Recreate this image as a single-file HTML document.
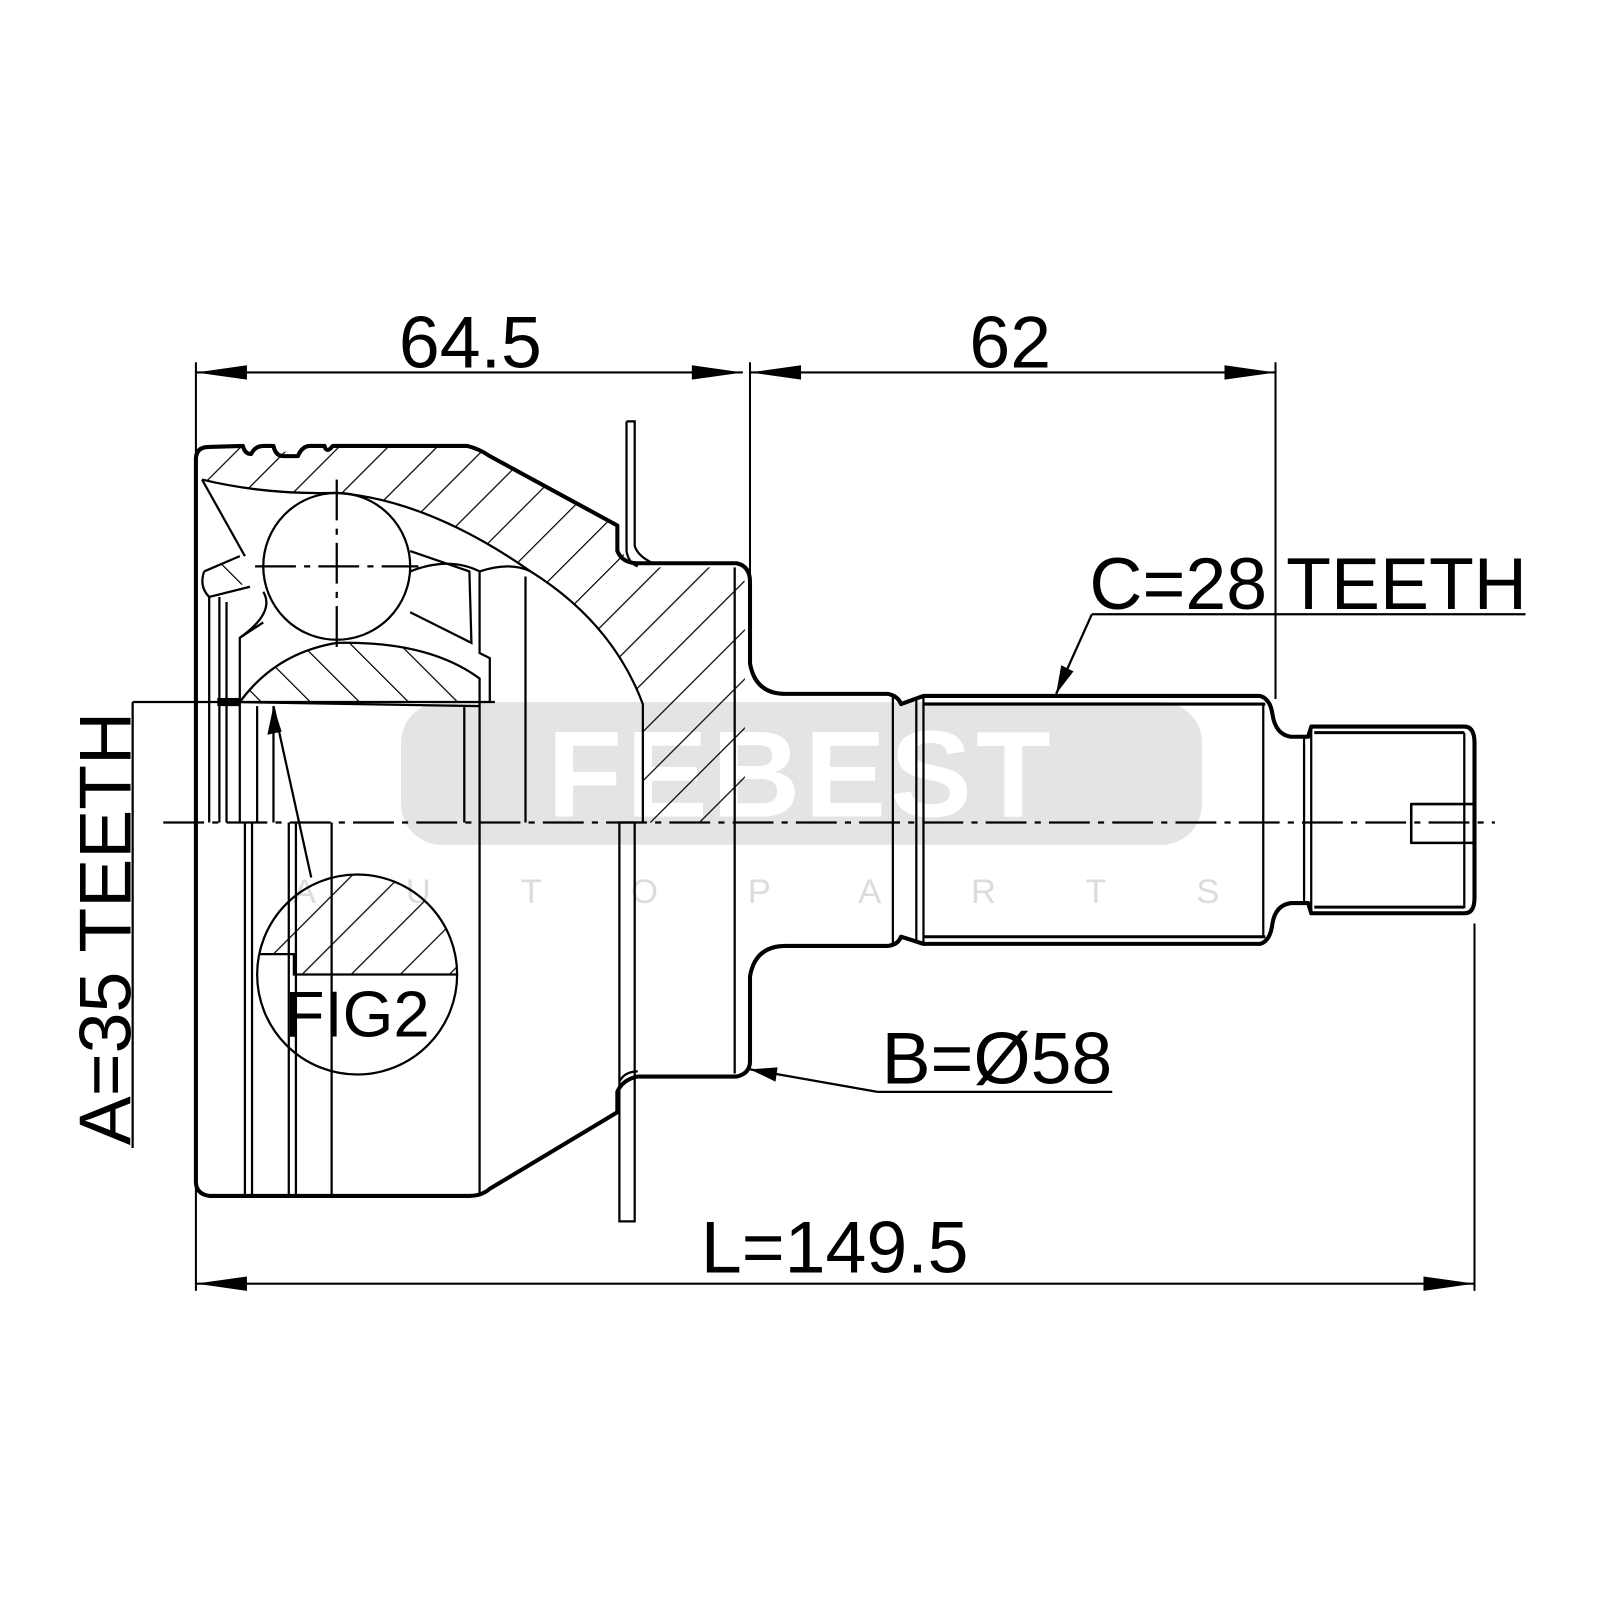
<!DOCTYPE html>
<html><head><meta charset="utf-8"><style>
html,body{margin:0;padding:0;background:#fff;}
svg{display:block}
text{font-family:"Liberation Sans",sans-serif;fill:#000}
</style></head><body>
<svg width="1600" height="1600" viewBox="0 0 1568 1568" xmlns="http://www.w3.org/2000/svg">
<defs>
<pattern id="h" patternUnits="userSpaceOnUse" width="34" height="34" patternTransform="rotate(45)">
<line x1="0" y1="0" x2="0" y2="34" stroke="#000" stroke-width="2.4"/>
</pattern>
<pattern id="h2" patternUnits="userSpaceOnUse" width="34" height="34" patternTransform="rotate(-45)">
<line x1="0" y1="0" x2="0" y2="34" stroke="#000" stroke-width="2.4"/>
</pattern>
<clipPath id="fc"><circle cx="350" cy="955" r="98"/></clipPath>
</defs>

<!-- watermark -->
<rect x="393" y="688" width="785" height="140" rx="40" fill="#e4e4e4"/>
<text x="785" y="800" text-anchor="middle" font-size="120" font-weight="bold" style="fill:#fff" letter-spacing="4">FEBEST</text>
<text x="785" y="885" text-anchor="middle" font-size="34" style="fill:#dcdcdc" letter-spacing="88">AUTOPARTS</text>

<g fill="none" stroke="#000" stroke-width="2">
<line x1="192" y1="355" x2="192" y2="1265"/>
<line x1="735" y1="355" x2="735" y2="562"/>
<line x1="1250" y1="355" x2="1250" y2="685"/>
<line x1="1445" y1="905" x2="1445" y2="1265"/>
<line x1="192" y1="365" x2="728" y2="365"/>
<line x1="735" y1="365" x2="1250" y2="365"/>
<line x1="192" y1="1258" x2="1445" y2="1258"/>
</g>
<g fill="#000">
<polygon points="192,365 242,358 242,372"/>
<polygon points="728,365 678,358 678,372"/>
<polygon points="735,365 785,358 785,372"/>
<polygon points="1250,365 1200,358 1200,372"/>
<polygon points="192,1258 242,1251 242,1265"/>
<polygon points="1445,1258 1395,1251 1395,1265"/>
</g>

<path d="M198,470 Q260,485 330,483 Q420,490 520,560 Q600,610 630,690 L630,806 L730,806 L730,570 L722,556 L640,556 Q618,550 607,540 L605,515 L460,437 L330,437 L322,445 L290,440 L270,445 L250,440 L240,437 L205,440 Q196,445 196,455 Z" fill="url(#h)" stroke="none"/>
<path d="M235,688 Q270,640 330,630 Q420,628 470,665 L470,688 Z" fill="url(#h2)" stroke="none"/>
<path d="M200,560 L235,545 L245,570 L210,583 Z" fill="url(#h2)" stroke="none"/>

<g fill="none" stroke="#000" stroke-width="4" stroke-linejoin="round">
<path d="M192,806 L192,450 Q192,438 205,438 L238,437 Q240,445 246,445 Q250,437 258,437 L268,437 Q270,447 278,447 L292,447 Q296,437 304,437 L318,437 Q320,445 326,437 L458,437 Q470,440 480,447 L605,515 L605,540 Q610,552 625,552 L722,552 Q735,555 735,570 L735,650 Q740,680 770,680 L870,680 Q880,682 883,690 L905,682 L1235,682 Q1245,685 1247,700 Q1250,720 1265,722 L1282,722 L1285,712 L1435,712 Q1445,712 1445,728 L1445,880 Q1445,895 1435,895 L1285,895 L1282,885 L1265,885 Q1250,887 1247,905 Q1245,922 1235,925 L905,925 L883,918 Q880,926 870,927 L770,927 Q740,927 735,957 L735,1040 Q735,1052 722,1055 L625,1055 Q610,1058 605,1070 L605,1090 L480,1165 Q472,1172 460,1172 L205,1172 Q192,1170 192,1158 Z"/>
<path d="M1445,788 L1383,788 L1383,826 L1445,826" stroke-width="2.5"/>
</g>

<g fill="none" stroke="#000" stroke-width="2.2">
<path d="M198,470 Q260,485 330,483 Q420,490 520,560 Q600,610 630,690 L630,806"/>
<path d="M198,470 L240,545"/>
<circle cx="330" cy="555" r="72"/>
<path d="M200,560 L235,545 M205,585 L245,575 M200,560 Q195,575 205,585"/>
<path d="M402,540 L460,560 L462,630 L402,600"/>
<path d="M258,610 L235,625 L235,688 M235,625 Q270,600 258,580"/>
<path d="M235,688 Q270,640 330,630 Q420,628 470,665 L470,688"/>
<path d="M470,560 L470,640 L480,645 L480,688"/>
<path d="M402,560 Q440,545 470,560" />
<path d="M470,560 Q500,550 520,560"/>
<line x1="515" y1="565" x2="515" y2="806"/>
<line x1="130" y1="688" x2="485" y2="688"/>
<line x1="130" y1="688" x2="130" y2="1125"/>
<line x1="232" y1="688" x2="470" y2="692"/>
<line x1="205" y1="585" x2="205" y2="806"/>
<line x1="215" y1="585" x2="215" y2="806"/>
<line x1="222" y1="590" x2="222" y2="806"/>
<line x1="235" y1="688" x2="235" y2="806"/>
<line x1="252" y1="692" x2="252" y2="806"/>
<line x1="268" y1="692" x2="268" y2="806"/>
<line x1="455" y1="692" x2="455" y2="806"/>
<line x1="470" y1="688" x2="470" y2="806"/>
<line x1="240" y1="806" x2="240" y2="1172"/>
<line x1="247" y1="806" x2="247" y2="1172"/>
<line x1="283" y1="806" x2="283" y2="1172"/>
<line x1="290" y1="806" x2="290" y2="1172"/>
<line x1="325" y1="806" x2="325" y2="1172"/>
<line x1="470" y1="806" x2="470" y2="1172"/>
<line x1="720" y1="556" x2="720" y2="1052"/>
<path d="M614,413 L622,413 L622,535 Q625,545 640,552 M614,413 L614,540 Q616,552 625,555"/>
<path d="M607,806 L607,1197 L622,1197 L622,806 Z"/>
<path d="M607,1060 Q612,1050 625,1050"/>
<line x1="875" y1="682" x2="875" y2="925"/>
<line x1="898" y1="685" x2="898" y2="922"/>
<line x1="905" y1="682" x2="905" y2="925"/>
<line x1="1238" y1="690" x2="1238" y2="918"/>
<line x1="1278" y1="722" x2="1278" y2="885"/>
<line x1="1285" y1="712" x2="1285" y2="895"/>
<line x1="1435" y1="718" x2="1435" y2="890"/>
<line x1="905" y1="690" x2="1240" y2="690" stroke-width="3"/>
<line x1="905" y1="918" x2="1240" y2="918" stroke-width="3"/>
<line x1="1288" y1="718" x2="1435" y2="718" stroke-width="3"/>
<line x1="1288" y1="889" x2="1435" y2="889" stroke-width="3"/>
<line x1="160" y1="806" x2="1465" y2="806" stroke-dasharray="40,8,6,8"/>
<line x1="330" y1="470" x2="330" y2="640" stroke-dasharray="40,8,6,8"/>
<line x1="250" y1="555" x2="410" y2="555" stroke-dasharray="40,8,6,8"/>
<circle cx="350" cy="955" r="98"/>
<line x1="305" y1="860" x2="268" y2="692"/>
<line x1="1070" y1="602" x2="1495" y2="602"/>
<line x1="1070" y1="602" x2="1035" y2="680"/>
<line x1="860" y1="1070" x2="1090" y2="1070"/>
<line x1="860" y1="1070" x2="735" y2="1048"/>
</g>
<g clip-path="url(#fc)">
<path d="M240,935 L288,935 L288,955 L460,955 L460,840 L240,840 Z" fill="url(#h)" stroke="none"/>
<path d="M240,935 L288,935 L288,955 L460,955" fill="none" stroke="#000" stroke-width="2.2"/>
</g>
<g fill="#000">
<polygon points="268,692 262,720 276,717"/>
<polygon points="1035,680 1040,652 1052,658"/>
<polygon points="735,1048 762,1046 760,1060"/>
<rect x="213" y="684" width="22" height="8"/>
</g>

<text x="461" y="360" text-anchor="middle" font-size="72">64.5</text>
<text x="990" y="360" text-anchor="middle" font-size="72">62</text>
<text x="1282" y="597" text-anchor="middle" font-size="72">C=28 TEETH</text>
<text x="977" y="1062" text-anchor="middle" font-size="72">B=Ø58</text>
<text x="818" y="1247" text-anchor="middle" font-size="72">L=149.5</text>
<text x="350" y="1016" text-anchor="middle" font-size="64">FIG2</text>
<text transform="translate(128,910) rotate(-90)" text-anchor="middle" font-size="72">A=35 TEETH</text>
</svg>
</body></html>
